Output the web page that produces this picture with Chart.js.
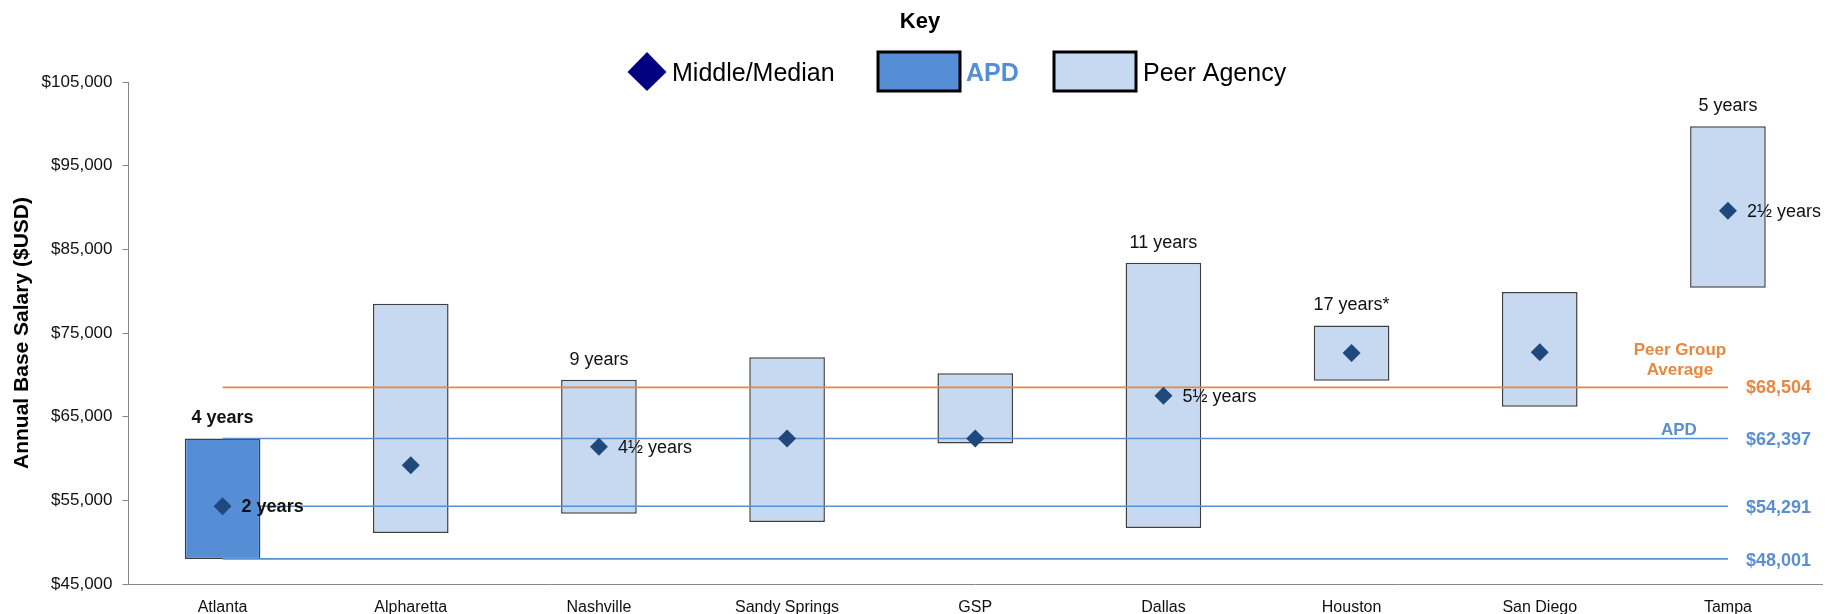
<!DOCTYPE html>
<html>
<head>
<meta charset="utf-8">
<script src="https://cdn.jsdelivr.net/npm/chart.js@4/dist/chart.umd.min.js"></script>
<style>
  html, body { margin: 0; padding: 0; background: #fff; }
  #wrap { width: 1838px; height: 614px; position: relative; }
</style>
</head>
<body>
<div id="wrap"><canvas id="cv"></canvas></div>
<script>
const FONT = "'Liberation Sans', Arial, sans-serif";

const categories = ["Atlanta","Alpharetta","Nashville","Sandy Springs","GSP","Dallas","Houston","San Diego","Tampa"];
const rangeLow  = [48001, 51100, 53400, 52400, 61800, 51700, 69300, 66200, 80400];
const rangeHigh = [62397, 78500, 69400, 72100, 70200, 83400, 75900, 79900, 99700];
const medians   = [54291, 59200, 61400, 62400, 62400, 67500, 72600, 72700, 89600];

const topLabels    = ["4 years","","9 years","","","11 years","17 years*","","5 years"];
const medianLabels = ["2 years","","4½ years","","","5½ years","","","2½ years"];

const peerAvg = 68504;
const apdLines = [62397, 54291, 48001];

const yTicks = [45000, 55000, 65000, 75000, 85000, 95000, 105000];

const APD_BLUE = "#558ED5";
const PEER_FILL = "#C6D9F1";
const ORANGE = "#E8873F";
const LINE_BLUE = "#5A8FD2";

function money(v){ return "$" + v.toLocaleString("en-US"); }

function refLine(v, color){
  return {
    type: "line",
    data: [{x: categories[0], y: v}, {x: categories[categories.length-1], y: v}],
    borderColor: color,
    borderWidth: 1.6,
    pointRadius: 0,
    order: 1
  };
}

const annotations = {
  id: "annotations",
  afterDatasetsDraw(chart){
    const ctx = chart.ctx;
    const xs = chart.scales.x, ys = chart.scales.y;
    ctx.save();
    ctx.textBaseline = "middle";

    // years above the boxes and next to the medians
    categories.forEach((c, i) => {
      const px = xs.getPixelForValue(i);
      const bold = i === 0 ? "bold " : "";
      ctx.fillStyle = "#111";
      ctx.font = bold + "18px " + FONT;
      if (topLabels[i]) {
        ctx.textAlign = "center";
        ctx.fillText(topLabels[i], px, ys.getPixelForValue(rangeHigh[i]) - 20);
      }
      if (medianLabels[i]) {
        ctx.textAlign = "left";
        ctx.fillText(medianLabels[i], px + 19, ys.getPixelForValue(medians[i]) + 1);
      }
    });

    // values at the end of the reference lines
    const endX = xs.getPixelForValue(categories.length - 1);
    ctx.textAlign = "left";
    ctx.font = "bold 18px " + FONT;
    ctx.fillStyle = ORANGE;
    const pyAvg = ys.getPixelForValue(peerAvg);
    ctx.fillText(money(peerAvg), endX + 18, pyAvg + 1);
    ctx.fillStyle = LINE_BLUE;
    apdLines.forEach(v => ctx.fillText(money(v), endX + 18, ys.getPixelForValue(v) + 2));

    ctx.textAlign = "center";
    ctx.font = "bold 17px " + FONT;
    ctx.fillStyle = ORANGE;
    ctx.fillText("Peer Group", endX - 48, pyAvg - 37);
    ctx.fillText("Average", endX - 48, pyAvg - 17);
    ctx.fillStyle = LINE_BLUE;
    ctx.fillText("APD", endX - 49, ys.getPixelForValue(apdLines[0]) - 8);

    // key
    ctx.fillStyle = "#000";
    ctx.font = "bold 22px " + FONT;
    ctx.fillText("Key", 920, 22);

    ctx.fillStyle = "#000080";
    ctx.beginPath();
    ctx.moveTo(647, 52); ctx.lineTo(666.5, 72); ctx.lineTo(647, 91); ctx.lineTo(627.5, 72);
    ctx.closePath(); ctx.fill();

    ctx.textAlign = "left";
    ctx.font = "25px " + FONT;
    ctx.fillStyle = "#000";
    ctx.fillText("Middle/Median", 672, 74);

    ctx.lineWidth = 3;
    ctx.strokeStyle = "#000";
    ctx.fillStyle = APD_BLUE;
    ctx.fillRect(878, 52, 82, 39); ctx.strokeRect(878, 52, 82, 39);
    ctx.fillStyle = PEER_FILL;
    ctx.fillRect(1054, 52, 82, 39); ctx.strokeRect(1054, 52, 82, 39);

    ctx.font = "bold 25px " + FONT;
    ctx.fillStyle = APD_BLUE;
    ctx.fillText("APD", 966, 74);
    ctx.font = "25px " + FONT;
    ctx.fillStyle = "#000";
    ctx.fillText("Peer Agency", 1143, 74);

    ctx.restore();
  }
};

new Chart(document.getElementById("cv"), {
  type: "bar",
  data: {
    labels: categories,
    datasets: [
      {
        type: "line",
        label: "Middle/Median",
        data: medians,
        showLine: false,
        pointStyle: "rectRot",
        pointRadius: 9,
        pointBackgroundColor: "#1F497D",
        pointBorderWidth: 0,
        order: 0
      },
      refLine(peerAvg, ORANGE),
      refLine(apdLines[0], LINE_BLUE),
      refLine(apdLines[1], LINE_BLUE),
      refLine(apdLines[2], LINE_BLUE),
      {
        label: "Range",
        data: categories.map((c, i) => [rangeLow[i], rangeHigh[i]]),
        backgroundColor: categories.map((c, i) => i === 0 ? APD_BLUE : PEER_FILL),
        borderColor: "#3F3F3F",
        borderWidth: 1.5,
        borderSkipped: false,
        categoryPercentage: 1,
        barPercentage: 0.402,
        order: 2
      }
    ]
  },
  options: {
    responsive: true,
    maintainAspectRatio: false,
    animation: false,
    layout: { padding: { top: 82, right: 16, left: 0, bottom: 0 } },
    plugins: {
      legend: { display: false },
      tooltip: { enabled: false }
    },
    scales: {
      x: {
        grid: { display: false },
        border: { display: true, color: "#888", width: 1 },
        ticks: { color: "#111", font: { family: FONT, size: 16 }, padding: 6, maxRotation: 0 },
        afterFit(scale){ scale.height = 30; }
      },
      y: {
        min: 45000,
        max: 105000,
        afterBuildTicks(scale){ scale.ticks = yTicks.map(v => ({ value: v })); },
        grid: { drawOnChartArea: false, drawTicks: true, tickLength: 6, color: "#888" },
        border: { display: true, color: "#888", width: 1 },
        ticks: { color: "#111", font: { family: FONT, size: 17 }, padding: 10, callback: v => money(v) },
        title: {
          display: true,
          text: "Annual Base Salary ($USD)",
          color: "#000",
          font: { family: FONT, size: 21, weight: "bold" },
          padding: { top: 10, bottom: 0 }
        },
        afterFit(scale){ scale.width = 128.5; }
      }
    }
  },
  plugins: [annotations]
});
</script>
</body>
</html>
